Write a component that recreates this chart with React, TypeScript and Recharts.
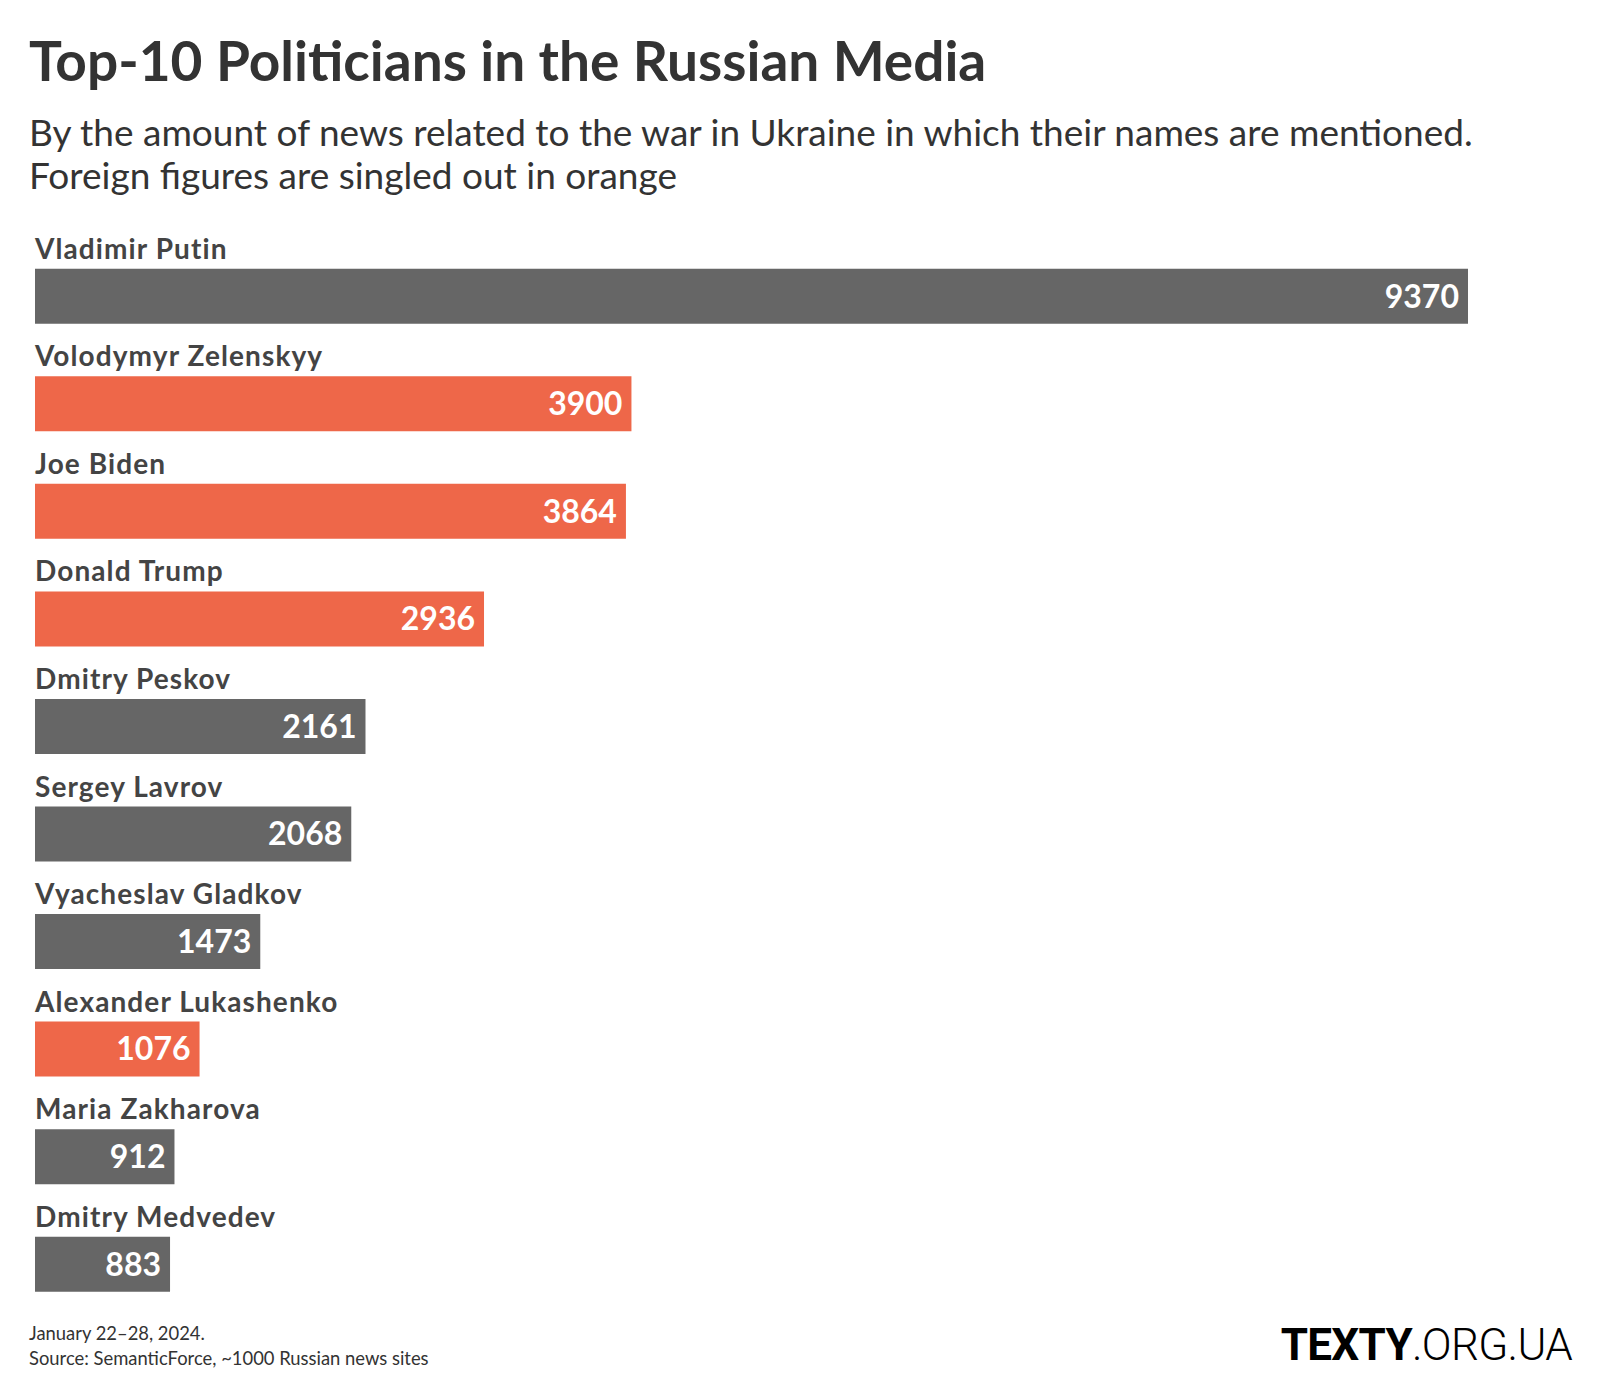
import React from "react";
import { BarChart, Bar, XAxis, YAxis, Cell, LabelList } from "recharts";

const names = [
  "Vladimir Putin",
  "Volodymyr Zelenskyy",
  "Joe Biden",
  "Donald Trump",
  "Dmitry Peskov",
  "Sergey Lavrov",
  "Vyacheslav Gladkov",
  "Alexander Lukashenko",
  "Maria Zakharova",
  "Dmitry Medvedev",
];
const mentions = [9370, 3900, 3864, 2936, 2161, 2068, 1473, 1076, 912, 883];
const foreign = [false, true, true, true, false, false, false, true, false, false];

const GRAY = "#666666";
const ORANGE = "#ee6749";
const FONT = "Lato, 'Open Sans', sans-serif";

const data = names.map((name, i) => ({ name, value: mentions[i], foreign: foreign[i] }));

function NameLabel(props: any) {
  const { x, y, value } = props;
  return (
    <text x={x} y={y - 10} fontFamily={FONT} fontWeight={700} fontSize={28} letterSpacing={1.1} fill="#444">
      {value}
    </text>
  );
}

export default function App() {
  return (
    <div style={{ position: "absolute", left: 0, top: 0, width: 1600, height: 1400, background: "#fff" }}>
      <svg width={1600} height={1400} style={{ position: "absolute", left: 0, top: 0 }}>
        <text x={29} y={81} fontFamily={FONT} fontWeight={700} fontSize={55} fill="#333">
          Top-10 Politicians in the Russian Media
        </text>
        <text x={29} y={146} fontFamily={FONT} fontWeight={400} fontSize={37} fill="#333">
          By the amount of news related to the war in Ukraine in which their names are mentioned.
        </text>
        <text x={29} y={189} fontFamily={FONT} fontWeight={400} fontSize={37} fill="#333">
          Foreign figures are singled out in orange
        </text>
        <text x={29} y={1340} fontFamily={FONT} fontSize={18.4} fill="#333">
          January 22–28, 2024.
        </text>
        <text x={29} y={1365} fontFamily={FONT} fontSize={18.4} fill="#333">
          Source: SemanticForce, ~1000 Russian news sites
        </text>
        <text x={1572} y={1360} textAnchor="end" fontFamily="Roboto, sans-serif" fontSize={44} fill="#000" letterSpacing={-0.7}>
          <tspan fontWeight={700}>TEXTY</tspan>
          <tspan fontWeight={300}>.ORG.UA</tspan>
        </text>
      </svg>
      <div style={{ position: "absolute", left: 0, top: 0 }}>
        <BarChart
          width={1600}
          height={1400}
          data={data}
          layout="vertical"
          margin={{ top: 242.7, right: 132, bottom: 81.7, left: 35 }}
        >
          <XAxis type="number" hide domain={[0, 9370]} />
          <YAxis type="category" dataKey="name" hide />
          <Bar dataKey="value" barSize={55} isAnimationActive={false}>
            {data.map((d, i) => (
              <Cell key={i} fill={d.foreign ? ORANGE : GRAY} />
            ))}
            <LabelList dataKey="name" content={<NameLabel />} />
            <LabelList
              dataKey="value"
              position="insideRight"
              offset={9}
              fill="#fff"
              fontFamily={FONT}
              fontWeight={700}
              fontSize={32}
            />
          </Bar>
        </BarChart>
      </div>
    </div>
  );
}
